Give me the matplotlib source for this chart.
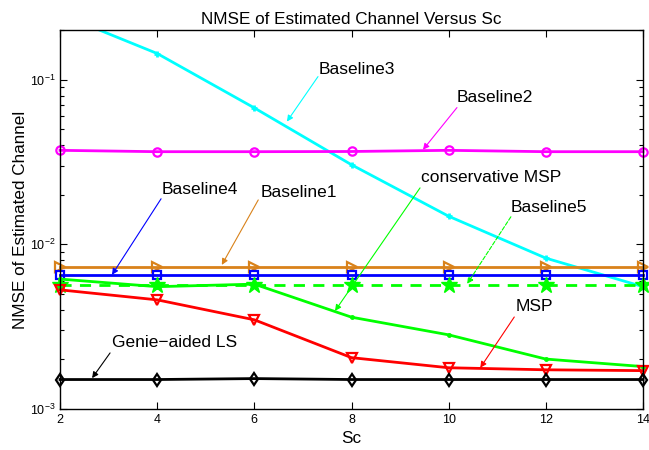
import matplotlib
matplotlib.use("Agg")
import matplotlib.pyplot as plt
import numpy as np
from matplotlib.ticker import LogLocator, NullFormatter

plt.rcParams['font.family'] = ['Liberation Sans', 'DejaVu Sans']
plt.rcParams['mathtext.fontset'] = 'custom'
plt.rcParams['mathtext.rm'] = 'Liberation Sans'
plt.rcParams['mathtext.it'] = 'Liberation Sans'
plt.rcParams['mathtext.default'] = 'regular'

sc = [2, 4, 6, 8, 10, 12, 14]
baseline3 = [0.25, 0.144, 0.0673, 0.0304, 0.0148, 0.00824, 0.00553]
baseline2 = [0.0372, 0.0365, 0.0365, 0.0366, 0.0372, 0.0365, 0.0365]
baseline1 = [0.00733, 0.00733, 0.00733, 0.00733, 0.00733, 0.00733, 0.00733]
baseline4 = [0.00653, 0.00653, 0.00653, 0.00653, 0.00653, 0.00653, 0.00653]
baseline5 = [0.00565, 0.00565, 0.00565, 0.00565, 0.00565, 0.00565, 0.00565]
cons_msp = [0.00615, 0.00553, 0.00573, 0.00361, 0.00282, 0.00201, 0.00181]
msp = [0.00529, 0.0046, 0.00348, 0.00205, 0.00178, 0.00173, 0.00171]
genie = [0.00151, 0.00151, 0.00153, 0.00151, 0.00151, 0.00151, 0.00151]

orange = '#D9821A'
lw = 2.0

fig = plt.figure(figsize=(6.49, 4.5), dpi=100)
ax = fig.add_axes([0.0925, 0.0911, 0.8983, 0.8422])
ax.set_yscale('log')

ax.plot(sc, baseline3, color='#00FFFF', lw=lw, marker='+', ms=5, mew=2)
ax.plot(sc, baseline2, color='#FF00FF', lw=lw, marker='o', ms=6, mfc='none', mew=1.6, clip_on=False)
ax.plot(sc, baseline1, color=orange, lw=lw, marker='>', ms=7, mfc='none', mew=1.6, clip_on=False)
ax.plot(sc, baseline4, color='#0000FF', lw=lw, marker='s', ms=6, mfc='none', mew=1.6, clip_on=False)
ax.plot(sc, baseline5, color='#00FF00', lw=lw, ls=(0, (4, 3)), marker='*', ms=12, clip_on=False)
ax.plot(sc, cons_msp, color='#00FF00', lw=lw, marker='.', ms=5, clip_on=False)
ax.plot(sc, msp, color='#FF0000', lw=lw, marker='v', ms=7, mfc='none', mew=1.6, clip_on=False)
ax.plot(sc, genie, color='#000000', lw=lw, marker='d', ms=6, mfc='none', mew=1.6, clip_on=False)

ax.set_xlim(2, 14)
ax.set_ylim(1e-3, 0.2)
ax.set_xticks(sc)
ax.set_xticklabels([str(v) for v in sc])
ax.yaxis.set_major_locator(LogLocator(base=10, numticks=10))
ax.yaxis.set_minor_locator(LogLocator(base=10, subs=np.arange(2, 10), numticks=20))
ax.yaxis.set_minor_formatter(NullFormatter())
ax.tick_params(which='both', direction='in', top=True, right=True, labelsize=9, width=0.8)
ax.tick_params(which='major', length=5)
ax.tick_params(which='minor', length=3)
for s in ax.spines.values():
    s.set_linewidth(1.0)

ax.set_title('NMSE of Estimated Channel Versus Sc', fontsize=12.3, pad=4)
ax.set_xlabel('Sc', fontsize=12.3, labelpad=4)
ax.set_ylabel('NMSE of Estimated Channel', fontsize=12.3, labelpad=1)

annotations = [
    ('Baseline3', (7.33, 0.115), (7.31, 0.1043), (6.67, 0.0556), '#00FFFF', '-'),
    ('Baseline2', (10.17, 0.0778), (10.17, 0.0676), (9.47, 0.0375), '#FF00FF', '-'),
    ('conservative MSP', (9.43, 0.0254), (9.41, 0.0220), (7.66, 0.00394), '#00FF00', '-'),
    ('Baseline5', (11.28, 0.01667), (11.28, 0.01469), (10.38, 0.00575), '#00FF00', '--'),
    ('Baseline4', (4.10, 0.0214), (4.08, 0.0189), (3.07, 0.00653), '#0000FF', '-'),
    ('Baseline1', (6.12, 0.0206), (6.08, 0.0186), (5.33, 0.0075), orange, '-'),
    ('Genie\u2212aided LS', (3.07, 0.00252), (3.03, 0.00219), (2.66, 0.00154), '#000000', '-'),
    ('MSP', (11.37, 0.00417), (11.35, 0.00362), (10.65, 0.00178), '#FF0000', '-'),
]
for label, tpos, start, end, col, ls in annotations:
    ax.annotate('', xy=end, xytext=start,
                arrowprops=dict(arrowstyle='-|>', color=col, lw=0.8, ls=ls,
                                mutation_scale=9, shrinkA=0, shrinkB=0))
    ax.text(tpos[0], tpos[1], label, fontsize=12.5, ha='left', va='center')

fig.savefig('out.png', dpi=100)
